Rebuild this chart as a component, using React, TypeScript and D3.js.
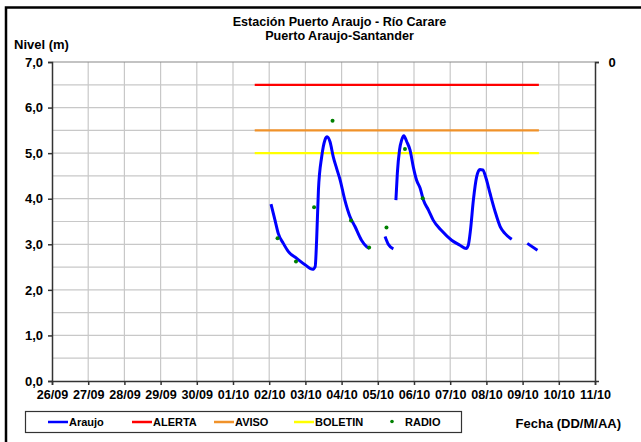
import { useEffect, useRef } from "react";
import * as d3 from "d3";

// days counted from 26/09 00:00
const dayLabels = [
  "26/09", "27/09", "28/09", "29/09", "30/09", "01/10", "02/10", "03/10",
  "04/10", "05/10", "06/10", "07/10", "08/10", "09/10", "10/10", "11/10",
];
const yTicks = [0, 1, 2, 3, 4, 5, 6, 7];

// Araujo series, split where the record has gaps
const araujoSeg1T = [6.05, 6.16, 6.25, 6.39, 6.53, 6.76, 6.99, 7.2, 7.27, 7.31, 7.36, 7.45, 7.54, 7.6, 7.68, 7.77, 7.86, 7.96, 8.09, 8.23, 8.37, 8.55, 8.69, 8.77];
const araujoSeg1V = [3.88, 3.53, 3.24, 3.02, 2.84, 2.69, 2.55, 2.45, 2.51, 3.09, 4.19, 4.92, 5.29, 5.36, 5.25, 4.92, 4.67, 4.41, 3.97, 3.61, 3.39, 3.09, 2.95, 2.91];
const araujoSeg2T = [9.2, 9.29, 9.43];
const araujoSeg2V = [3.17, 3.0, 2.9];
const araujoSeg3T = [9.5, 9.54, 9.6, 9.66, 9.72, 9.8, 9.89, 9.98, 10.07, 10.17, 10.26, 10.4, 10.53, 10.76, 11.04, 11.27, 11.44, 11.5, 11.56, 11.64, 11.73, 11.82, 11.9, 11.99, 12.1, 12.24, 12.38, 12.51, 12.7];
const araujoSeg3V = [3.97, 4.56, 5.07, 5.29, 5.38, 5.25, 5.07, 4.7, 4.41, 4.23, 3.97, 3.75, 3.53, 3.3, 3.09, 2.98, 2.91, 2.98, 3.31, 3.97, 4.48, 4.64, 4.63, 4.45, 4.12, 3.72, 3.39, 3.24, 3.11];
const araujoSeg4T = [13.13, 13.41];
const araujoSeg4V = [3.02, 2.87];

const radioT = [6.23, 6.74, 7.24, 7.75, 8.26, 8.76, 9.24, 9.75, 10.24];
const radioV = [3.13, 2.62, 3.81, 5.71, 3.52, 2.93, 3.37, 5.09, 4.01];

// threshold levels, drawn between start and end day
const thresholdNames = ["ALERTA", "AVISO", "BOLETIN"];
const thresholdValues = [6.5, 5.5, 5.0];
const thresholdColors = ["#ff0000", "#f0922a", "#ffff00"];
const thresholdStart = 5.6;
const thresholdEnd = 13.45;

export default function App() {
  const ref = useRef<SVGSVGElement>(null);

  useEffect(() => {
    const svg = d3.select(ref.current);
    svg.selectAll("*").remove();

    const font = "'Liberation Sans', Arial, sans-serif";
    const left = 52;
    const right = 595;
    const top = 62;
    const bottom = 381;

    const x = d3.scaleLinear().domain([0, 15]).range([left, right]);
    const y = d3.scaleLinear().domain([0, 7]).range([bottom, top]);

    svg.append("rect").attr("width", 641).attr("height", 442).attr("fill", "white");
    svg
      .append("rect")
      .attr("x", 6)
      .attr("y", 7.5)
      .attr("width", 700)
      .attr("height", 500)
      .attr("fill", "none")
      .attr("stroke", "black")
      .attr("stroke-width", 2.5);

    // grid
    const g = svg.append("g");
    g.selectAll("line.vg")
      .data(d3.range(1, 15))
      .join("line")
      .attr("x1", (d) => x(d))
      .attr("x2", (d) => x(d))
      .attr("y1", top)
      .attr("y2", bottom)
      .attr("stroke", "#c8c8c8")
      .attr("stroke-width", 1.2);
    g.selectAll("line.hg")
      .data(d3.range(0.5, 7.01, 0.5))
      .join("line")
      .attr("x1", left)
      .attr("x2", right)
      .attr("y1", (d) => y(d))
      .attr("y2", (d) => y(d))
      .attr("stroke", (d) => (d === 7 ? "#888" : "#c8c8c8"))
      .attr("stroke-width", 1.2);

    // axes
    const axisColor = "#333";
    const yAxis = svg
      .append("g")
      .attr("transform", `translate(${left},0)`)
      .call(d3.axisLeft(y).tickValues(yTicks).tickSize(4).tickFormat((d) => d3.format(".1f")(d as number).replace(".", ",")));
    const xAxis = svg
      .append("g")
      .attr("transform", `translate(0,${bottom})`)
      .call(d3.axisBottom(x).tickValues(d3.range(0, 16)).tickSize(4).tickFormat((d) => dayLabels[d as number]));
    const rAxis = svg
      .append("g")
      .attr("transform", `translate(${right},0)`)
      .call(d3.axisRight(y).tickValues([7]).tickSize(4).tickFormat(() => ""));

    [yAxis, xAxis, rAxis].forEach((a) => {
      a.select(".domain").attr("stroke", axisColor).attr("stroke-width", 1.5);
      a.selectAll(".tick line").attr("stroke", axisColor).attr("stroke-width", 1.5);
      a.selectAll("text")
        .attr("font-family", font)
        .attr("font-weight", "bold")
        .attr("font-size", 13)
        .attr("fill", "black");
    });
    yAxis.selectAll("text").attr("x", -9);
    xAxis.selectAll("text").attr("y", 9).attr("font-size", 12.6);

    svg
      .append("text")
      .attr("x", 612)
      .attr("y", 67)
      .attr("text-anchor", "middle")
      .attr("font-family", font)
      .attr("font-weight", "bold")
      .attr("font-size", 13)
      .text("0");

    // thresholds
    thresholdValues.forEach((v, i) => {
      svg
        .append("line")
        .attr("x1", x(thresholdStart))
        .attr("x2", x(thresholdEnd))
        .attr("y1", y(v))
        .attr("y2", y(v))
        .attr("stroke", thresholdColors[i])
        .attr("stroke-width", 2.2);
    });

    // Araujo
    const line = d3
      .line<[number, number]>()
      .x((d) => x(d[0]))
      .y((d) => y(d[1]))
      .curve(d3.curveMonotoneX);
    const segs = [
      [araujoSeg1T, araujoSeg1V],
      [araujoSeg2T, araujoSeg2V],
      [araujoSeg3T, araujoSeg3V],
      [araujoSeg4T, araujoSeg4V],
    ];
    segs.forEach(([ts, vs]) => {
      svg
        .append("path")
        .datum(ts.map((t, i) => [t, vs[i]] as [number, number]))
        .attr("fill", "none")
        .attr("stroke", "#0000ff")
        .attr("stroke-width", 3)
        .attr("stroke-linejoin", "round")
        .attr("d", line);
    });

    // Radio
    svg
      .selectAll("circle.radio")
      .data(radioT.map((t, i) => [t, radioV[i]]))
      .join("circle")
      .attr("cx", (d) => x(d[0]))
      .attr("cy", (d) => y(d[1]))
      .attr("r", 2)
      .attr("fill", "#008000");

    // titles
    const title = svg
      .append("text")
      .attr("text-anchor", "middle")
      .attr("font-family", font)
      .attr("font-weight", "bold")
      .attr("font-size", 12.6);
    title.append("tspan").attr("x", 339.5).attr("y", 26).text("Estación Puerto Araujo - Río Carare");
    title.append("tspan").attr("x", 339.5).attr("y", 40).text("Puerto Araujo-Santander");

    svg
      .append("text")
      .attr("x", 14)
      .attr("y", 49)
      .attr("font-family", font)
      .attr("font-weight", "bold")
      .attr("font-size", 13)
      .text("Nivel (m)");

    svg
      .append("text")
      .attr("x", 621)
      .attr("y", 428)
      .attr("text-anchor", "end")
      .attr("font-family", font)
      .attr("font-weight", "bold")
      .attr("font-size", 13)
      .text("Fecha (DD/M/AA)");

    // legend
    const lg = svg.append("g");
    lg.append("rect")
      .attr("x", 25.5)
      .attr("y", 411.5)
      .attr("width", 436)
      .attr("height", 21)
      .attr("fill", "white")
      .attr("stroke", "#333")
      .attr("stroke-width", 1.2);
    const legendItems = [
      { name: "Araujo", color: "#0000ff", x0: 48, kind: "line" },
      ...thresholdNames.map((n, i) => ({ name: n, color: thresholdColors[i], x0: [132, 214, 294][i], kind: "line" })),
      { name: "RADIO", color: "#008000", x0: 384, kind: "dot" },
    ];
    legendItems.forEach((it) => {
      if (it.kind === "line") {
        lg.append("line")
          .attr("x1", it.x0)
          .attr("x2", it.x0 + 20)
          .attr("y1", 422)
          .attr("y2", 422)
          .attr("stroke", it.color)
          .attr("stroke-width", 2.5);
      } else {
        lg.append("circle").attr("cx", it.x0 + 8).attr("cy", 421.5).attr("r", 1.8).attr("fill", it.color);
      }
      lg.append("text")
        .attr("x", it.x0 + 21)
        .attr("y", 426)
        .attr("font-family", font)
        .attr("font-weight", "bold")
        .attr("font-size", 11)
        .text(it.name);
    });
  }, []);

  return (
    <svg
      ref={ref}
      width={641}
      height={442}
      style={{ position: "absolute", left: 0, top: 0 }}
    />
  );
}
